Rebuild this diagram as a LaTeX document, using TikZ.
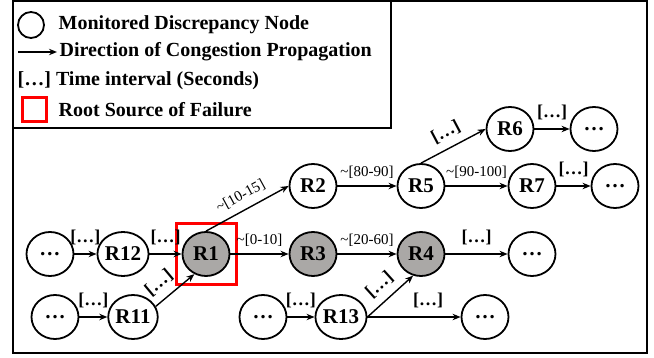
\documentclass[tikz,border=0pt]{standalone}
\usepackage{fontspec}
\setmainfont{Liberation Serif}
\usetikzlibrary{arrows.meta, positioning, shapes.geometric}
\definecolor{nodegray}{RGB}{170,168,166}
\tikzset{
    rnode/.style={ellipse, draw, line width=0.9pt, minimum width=23.5pt, minimum height=22pt, inner sep=0pt, font=\bfseries\fontsize{10.5}{12}\selectfont},
    hot/.style={rnode, fill=nodegray},
    lbl/.style={font=\bfseries\fontsize{9}{10}\selectfont, inner sep=1pt, above=3pt},
    tlbl/.style={font=\fontsize{7.5}{9}\selectfont, inner sep=1pt, above=2.5pt},
    legtext/.style={font=\bfseries\fontsize{10}{12}\selectfont, anchor=west, inner sep=1pt}
}

\begin{document}
\begin{tikzpicture}[x=0.5pt, y=-0.5pt, on grid, >={Stealth[length=4pt, width=3.2pt]}, line width=0.7pt]
        \useasboundingbox (0,0) rectangle (654,358);

        % Marco y leyenda
        \draw[line width=1pt] (13,1) rectangle (647,353);
        \draw[line width=1pt] (13,1) rectangle (391,128);
        \node[draw, circle, line width=0.9pt, minimum size=13pt, inner sep=0pt] (legnode) at (31,25) {};
        \node[legtext] (legmon) at (56,25) {Monitored Discrepancy Node};
        \coordinate (legstart) at (18,52);
        \node[legtext] (legdir) at (57,52) {Direction of Congestion Propagation};
        \draw[->] (legstart) -- (legdir.west);
        \node[legtext] (legtime) at (15,81) {[…] Time interval (Seconds)};
        \node[draw=red, line width=1.5pt, minimum size=12pt, inner sep=0pt] (legroot) at (34,110) {};
        \node[legtext] (legroottxt) at (56,110) {Root Source of Failure};

        % Fila central
        \node[rnode] (dotsa) at (50,254) {…};
        \node[rnode, right=36.5pt of dotsa] (r12) {R12};
        \node[hot, right=41.5pt of r12] (r1) {R1};
        \node[hot, right=53.5pt of r1] (r3) {R3};
        \node[hot, right=54pt of r3] (r4) {R4};
        \node[rnode, right=55.5pt of r4] (dotsd) {…};
        \node[draw=red, line width=1.5pt, minimum size=30pt, inner sep=0pt] (rootbox) at (r1) {};

        % Fila superior
        \node[rnode, above=34pt of r3] (r2) {R2};
        \node[rnode, right=54pt of r2] (r5) {R5};
        \node[rnode, right=55.5pt of r5] (r7) {R7};
        \node[rnode, right=41.5pt of r7] (dotsf) {…};
        \node[rnode, above right=28.5pt and 44.5pt of r5] (r6) {R6};
        \node[rnode, right=42pt of r6] (dotse) {…};

        % Fila inferior
        \node[rnode, below right=31.5pt and 2.5pt of dotsa] (dotsb) {…};
        \node[rnode, right=39pt of dotsb] (r11) {R11};
        \node[rnode, below right=31.5pt and 14pt of r3] (r13) {R13};
        \node[rnode, left=39pt of r13] (dotsc) {…};
        \node[rnode, right=72pt of r13] (dotsg) {…};

        % Conexiones
        \draw[->] (dotsa) -- node[lbl] {[…]} (r12);
        \draw[->] (r12) -- node[lbl] {[…]} (r1);
        \draw[->] (r1) -- node[tlbl] {\textasciitilde[0-10]} (r3);
        \draw[->] (r3) -- node[tlbl] {\textasciitilde[20-60]} (r4);
        \draw[->] (r4) -- node[lbl] {[…]} (dotsd);
        \draw[->] (r1.north) -- node[tlbl, sloped] {\textasciitilde[10-15]} (r2.west);
        \draw[->] (r2) -- node[tlbl] {\textasciitilde[80-90]} (r5);
        \draw[->] (r5) -- node[tlbl] {\textasciitilde[90-100]} (r7);
        \draw[->] (r7) -- node[lbl] {[…]} (dotsf);
        \draw[->] (r5.north) -- node[lbl, sloped] {[…]} (r6.west);
        \draw[->] (r6) -- node[lbl] {[…]} (dotse);
        \draw[->] (dotsb) -- node[lbl] {[…]} (r11);
        \draw[->] (r11.25) -- node[lbl, sloped, pos=0.35] {[…]} (r1.240);
        \draw[->] (dotsc) -- node[lbl] {[…]} (r13);
        \draw[->] (r13.east) -- node[lbl, sloped] {[…]} (r4.250);
        \draw[->] (r13.east) -- node[lbl, pos=0.65] {[…]} (dotsg.west);
    \end{tikzpicture}
\end{document}
